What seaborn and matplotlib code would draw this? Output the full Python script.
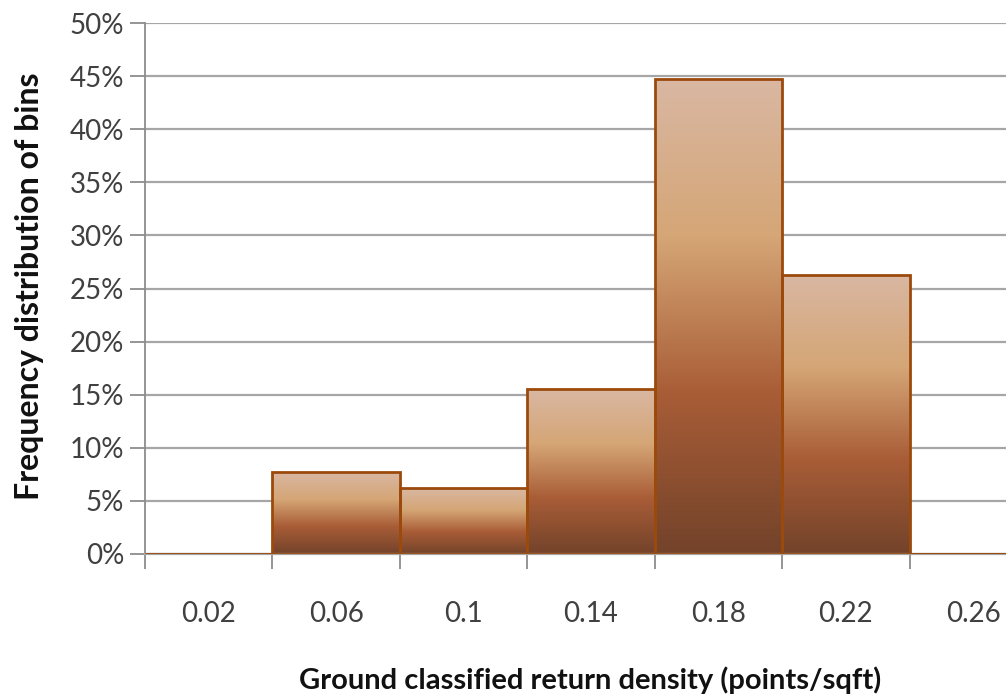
import numpy as np
import pandas as pd
import seaborn as sns
import matplotlib.pyplot as plt
from matplotlib.colors import LinearSegmentedColormap

# bins and share of returns in each bin
bins = ["0.02", "0.06", "0.1", "0.14", "0.18", "0.22", "0.26"]
freq = [0.0, 0.077, 0.062, 0.155, 0.447, 0.263, 0.0]
yticks = [0, 0.05, 0.10, 0.15, 0.20, 0.25, 0.30, 0.35, 0.40, 0.45, 0.50]

df = pd.DataFrame({"bin": bins, "freq": freq})

sns.set_theme(style="white")
plt.rcParams["font.family"] = ["Lato", "DejaVu Sans"]

fig = plt.figure(figsize=(10.06, 7), dpi=100)
# plot area runs past the right edge like the cropped original
ax = fig.add_axes([145 / 1006, 1 - 554 / 700, 892 / 1006, 531 / 700])

sns.barplot(data=df, x="bin", y="freq", ax=ax, width=1.0,
            facecolor="none", edgecolor="#9C4A0C", linewidth=2, zorder=3)

# excel style vertical gradient in every bar
grad = LinearSegmentedColormap.from_list(
    "brown", [(0, "#D9B7A2"), (0.33, "#D5A676"), (0.66, "#A95D37"), (1, "#73432A")])
img = np.linspace(0, 1, 256).reshape(-1, 1)
for p in ax.patches:
    h = p.get_height()
    if h <= 0:
        continue
    x0 = p.get_x()
    w = p.get_width()
    im = ax.imshow(img, cmap=grad, aspect="auto", extent=[x0, x0 + w, 0, h],
                   origin="upper", zorder=2, interpolation="bilinear")
    im.set_clip_path(p)

ax.set_xlim(-0.5, len(bins) - 0.5)
ax.set_ylim(0, 0.5)
ax.set_yticks(yticks)
ax.set_yticklabels([f"{int(round(t * 100))}%" for t in yticks])
ax.yaxis.grid(True, color="#A6A6A6", linewidth=1.6, zorder=0)
ax.set_axisbelow(True)

ax.set_xticks(np.arange(len(bins) + 1) - 0.5, minor=True)
ax.tick_params(axis="x", which="minor", length=11, width=1.3, color="#8C8C8C",
               direction="out", bottom=True)
ax.tick_params(axis="x", which="major", length=0, pad=34, labelsize=20,
               labelcolor="#404040")
ax.tick_params(axis="y", length=11, width=1.3, color="#8C8C8C", direction="out",
               left=True, pad=4, labelsize=20, labelcolor="#404040")

for s in ["top", "right"]:
    ax.spines[s].set_visible(False)
ax.spines["left"].set_color("#8C8C8C")
ax.spines["left"].set_linewidth(1.3)
ax.spines["bottom"].set_color("#A6A6A6")
ax.spines["bottom"].set_linewidth(1.6)

ax.set_xlabel("Ground classified return density (points/sqft)", fontsize=21,
              fontweight="bold", color="#111111")
ax.set_ylabel("Frequency distribution of bins", fontsize=23,
              fontweight="bold", color="#111111")
ax.xaxis.set_label_coords(445 / 892, -112 / 531)
ax.yaxis.set_label_coords(-116 / 892, 0.505)
ax.yaxis.label.set_va("center")

fig.savefig("out.png", dpi=100)
